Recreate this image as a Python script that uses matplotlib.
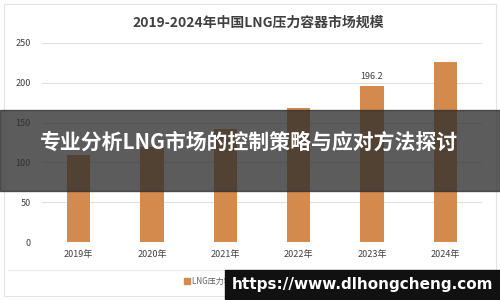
import matplotlib.pyplot as plt
from matplotlib.patches import Rectangle

plt.rcParams['font.family'] = ['Noto Sans CJK SC', 'DejaVu Sans']

# data
years = ['2019年', '2020年', '2021年', '2022年', '2023年', '2024年']
market = [109, 119, 142, 168, 196.2, 226]
label_year = '2023年'
yticks = [0, 50, 100, 150, 200, 250]

title = '2019-2024年中国LNG压力容器市场规模'
banner = '专业分析LNG市场的控制策略与应对方法探讨'
legend_txt = 'LNG压力容器市场规模（亿元）  制图：共研产业咨询（共研网）'
site = 'https://www.dlhongcheng.com'

bar_color = '#D48A4C'

fig = plt.figure(figsize=(5, 3), dpi=100)
fig.patch.set_facecolor('white')
ax = fig.add_axes([0.084, 0.193, 0.88, 0.664])

x = range(len(years))
ax.bar(x, market, width=0.32, color=bar_color, zorder=2)
i = years.index(label_year)
ax.text(i, market[i] + 6, f'{market[i]}', ha='center', va='bottom',
        fontsize=6.5, color='#404040')

ax.set_xlim(-0.5, len(years) - 0.5)
ax.set_ylim(0, 250)
ax.set_yticks(yticks)
ax.set_xticks(list(x))
ax.set_xticklabels(years)
ax.tick_params(axis='both', length=0, labelsize=6.5, colors='#404040')
ax.tick_params(axis='y', pad=8)
ax.tick_params(axis='x', pad=6)
ax.grid(axis='y', color='#E0E0E0', linewidth=0.8, zorder=0)
for s in ax.spines.values():
    s.set_visible(False)

fig.text(0.516, 0.923, title, ha='center', va='center', fontsize=10,
         fontweight='bold', color='#404040')

# legend row
fig.add_artist(Rectangle((0.368, 0.052), 0.012, 0.022, color=bar_color,
                         transform=fig.transFigure))
fig.text(0.385, 0.063, legend_txt, ha='left', va='center', fontsize=5.8,
         color='#606060')
fig.add_artist(plt.Line2D([0.016, 0.984], [0.1, 0.1], color='#EBEBEB',
                          linewidth=0.8, transform=fig.transFigure))

# outer frame
fig.add_artist(Rectangle((0.008, 0.012), 0.984, 0.976, fill=False,
                         edgecolor='#E4E4E4', linewidth=0.8,
                         transform=fig.transFigure))

# dark banner across the middle
fig.add_artist(Rectangle((0, 0.363), 1, 0.27, color='#2e2e2e', alpha=0.78,
                         transform=fig.transFigure, zorder=5))
fig.text(0.498, 0.525, banner, ha='center', va='center', fontsize=15,
         fontweight='bold', color='white', zorder=6)

# site box bottom right
fig.add_artist(Rectangle((0.45, 0), 0.55, 0.1, color='#111111',
                         transform=fig.transFigure, zorder=5))
fig.text(0.725, 0.05, site, ha='center', va='center', fontsize=11,
         fontweight='bold', color='white', zorder=6,
         family=['DejaVu Sans'])

fig.savefig('out.png', dpi=100)
